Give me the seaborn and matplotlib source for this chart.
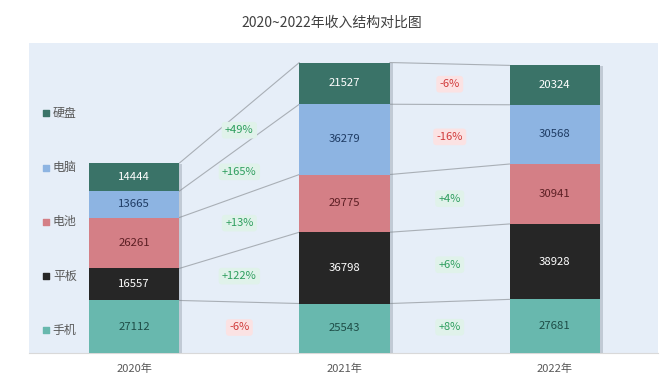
import numpy as np
import matplotlib
matplotlib.use("Agg")
import matplotlib.pyplot as plt
import matplotlib.patheffects as pe
import seaborn as sns

# --- data -----------------------------------------------------------------
years = ["2020年", "2021年", "2022年"]
categories = ["手机", "平板", "电池", "电脑", "硬盘"]          # bottom -> top
phone = [27112, 25543, 27681]
tablet = [16557, 36798, 38928]
battery = [26261, 29775, 30941]
pc = [13665, 36279, 30568]
disk = [14444, 21527, 20324]

colors = ["#68B8AE", "#262626", "#D47F86", "#8DB4E2", "#3A7368"]
text_colors = ["#1E4D47", "#FFFFFF", "#5C1F24", "#1F3C64", "#FFFFFF"]

sns.set_theme(style="white")
plt.rcParams["font.family"] = ["Noto Sans CJK SC", "DejaVu Sans"]

vals = np.array([phone, tablet, battery, pc, disk], dtype=float)
cum = vals.cumsum(axis=0)
W = 0.43

fig = plt.figure(figsize=(6.64, 3.85), dpi=100)
ax = fig.add_axes([29 / 664, 32 / 385, 629 / 664, 310 / 385])
ax.set_facecolor("#E6EEF8")

# stacked bars drawn as overlaid cumulative totals (tallest first)
for k in range(len(categories) - 1, -1, -1):
    sns.barplot(x=years, y=cum[k], color=colors[k], width=W, saturation=1,
                errorbar=None, ax=ax, zorder=3)
# soft shadow on the full stacks
for p in ax.patches[:len(years)]:
    p.set_path_effects([pe.SimplePatchShadow(offset=(2.2, -0.6), shadow_rgbFace="#7d8894", alpha=0.35),
                        pe.Normal()])
for p in ax.patches:
    p.set_linewidth(0)

# segment values
for k in range(len(categories)):
    for i in range(len(years)):
        ax.text(i, cum[k][i] - vals[k][i] / 2, f"{int(vals[k][i])}", ha="center", va="center",
                fontsize=8.2, color=text_colors[k], zorder=5)

# connecting lines + change labels
for i in range(len(years) - 1):
    for k in range(len(categories)):
        ax.plot([i + W / 2, i + 1 - W / 2], [cum[k][i], cum[k][i + 1]],
                color="#A9AFB6", lw=0.8, zorder=2)
        mid = ((cum[k][i] - vals[k][i] / 2) + (cum[k][i + 1] - vals[k][i + 1] / 2)) / 2
        chg = vals[k][i + 1] / vals[k][i] - 1
        pos = chg >= 0
        ax.text(i + 0.5, mid, f"{'+' if pos else '-'}{abs(chg) * 100:.0f}%",
                ha="center", va="center", fontsize=8,
                color="#2E9E5E" if pos else "#D03A3A", zorder=4,
                bbox=dict(boxstyle="round,pad=0.3", fc="#E0F2EA" if pos else "#FBE2E3",
                          ec="none"))

# legend on the left (top -> bottom)
leg_y = [0.774, 0.597, 0.423, 0.248, 0.074]
for k, y in zip(range(len(categories) - 1, -1, -1), leg_y):
    ax.scatter([0.027], [y], marker="s", s=22, color=colors[k], transform=ax.transAxes,
               zorder=5, clip_on=False)
    ax.text(0.038, y, categories[k], transform=ax.transAxes, ha="left", va="center",
            fontsize=8.6, color="#595959")

ax.set_xlim(-0.5, 2.49)
ax.set_ylim(0, 160000)
ax.set_yticks([])
ax.set_xlabel("")
ax.set_ylabel("")
ax.tick_params(axis="x", length=0, pad=8, labelsize=8, labelcolor="#595959")
for s in ["left", "right", "top"]:
    ax.spines[s].set_visible(False)
ax.spines["bottom"].set_color("#D9D9D9")
ax.spines["bottom"].set_linewidth(0.8)

fig.text(0.5, 1 - 23 / 385, "2020~2022年收入结构对比图", ha="center", va="center",
         fontsize=10, color="#404040")

fig.savefig("out.png", dpi=100)
